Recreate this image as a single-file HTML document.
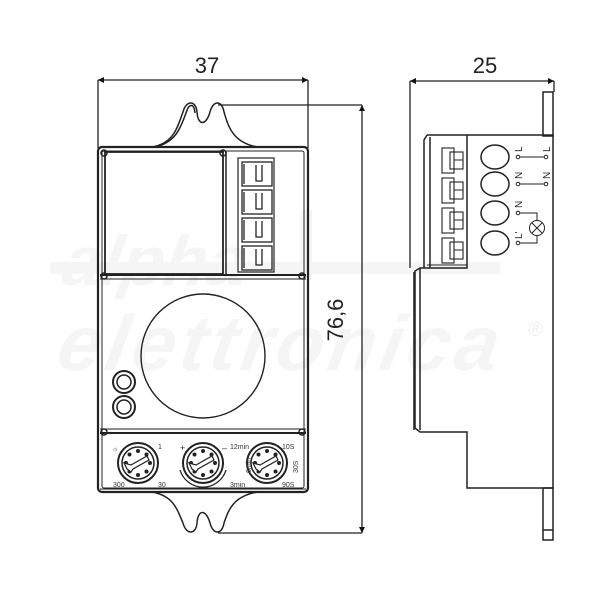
<!DOCTYPE html>
<html><head><meta charset="utf-8"><style>
html,body{margin:0;padding:0;background:#fff;width:600px;height:600px;overflow:hidden}
svg{display:block}
text{font-family:"Liberation Sans",sans-serif}
</style></head><body>
<svg width="600" height="600" viewBox="0 0 600 600" xmlns="http://www.w3.org/2000/svg">
<defs>
<marker id="ar" viewBox="0 0 10 10" refX="10" refY="5" markerWidth="10" markerHeight="6" orient="auto-start-reverse" markerUnits="userSpaceOnUse"><path d="M0,0L10,5L0,10z" fill="#111"/></marker>
<g id="knob">
<circle r="20" fill="none" stroke="#222" stroke-width="2"/>
<circle r="16" fill="none" stroke="#222" stroke-width="1.5"/>
<g fill="#222">
<circle cx="12" cy="0" r="2"/><circle cx="8.5" cy="8.5" r="2"/><circle cx="0" cy="12" r="2"/><circle cx="-8.5" cy="8.5" r="2"/>
<circle cx="-12" cy="0" r="2"/><circle cx="-8.5" cy="-8.5" r="2"/><circle cx="0" cy="-12" r="2"/><circle cx="8.5" cy="-8.5" r="2"/>
</g>
<path d="M-11,6 L-14,0 L-7,2 L9,-7 L11,-3 L-5,6 L-7,9z" fill="#fff" stroke="#222" stroke-width="1.2"/>
</g>
</defs>

<!-- watermark -->
<g fill="#f5f5f5" font-style="italic" font-weight="bold">
<text x="110" y="285" font-size="70" transform="skewX(-10)">alpha</text>
<text x="120" y="370" font-size="78" transform="skewX(-10)" textLength="440">elettronica</text>
<rect x="50" y="262" width="450" height="12"/>
<rect x="300" y="210" width="12" height="70"/>
</g>
<text x="528" y="336" font-size="20" fill="#eeeeee">®</text>

<g fill="none" stroke="#222" stroke-width="1.3">
<line x1="98" y1="80" x2="308" y2="80" marker-start="url(#ar)" marker-end="url(#ar)"/>
<line x1="98" y1="80" x2="98" y2="148"/>
<line x1="308" y1="80" x2="308" y2="148"/>
<line x1="410" y1="81" x2="554" y2="81" marker-start="url(#ar)" marker-end="url(#ar)"/>
<line x1="410" y1="81" x2="410" y2="268"/>
<line x1="554" y1="81" x2="554" y2="92"/>
<line x1="362" y1="105" x2="362" y2="533" marker-start="url(#ar)" marker-end="url(#ar)"/>
<line x1="218" y1="105" x2="362" y2="105"/>
<line x1="218" y1="533" x2="362" y2="533"/>
</g>

<text x="207" y="73" font-size="22" text-anchor="middle" fill="#222">37</text>
<text x="485" y="73" font-size="22" text-anchor="middle" fill="#222">25</text>
<text x="0" y="0" font-size="22" text-anchor="middle" fill="#222" transform="translate(343,320) rotate(-90)">76,6</text>

<g fill="none" stroke="#222" stroke-width="1.5">
<path d="M152,147 C175,143 178,125 183,112 C186,100 196,100 197,112 C198,126 206,126 210,112 C213,100 222,100 224,112 C228,125 232,143 258,147"/>
<path d="M155,147 C177,142 181,126 186,113 C189,103 194,103 195,113"/>
<path d="M152,492 C175,496 178,512 183,523 C186,535 196,535 197,523 C198,509 206,509 210,523 C213,535 222,535 224,523 C228,512 232,496 258,492"/>
<rect x="98" y="147" width="210" height="345" rx="4" stroke-width="2.2"/>
<rect x="102" y="151" width="202" height="337" rx="2" stroke-width="1"/>
<rect x="105" y="152" width="118" height="122" stroke-width="1.8"/>
<line x1="226" y1="152" x2="226" y2="274"/>
<rect x="238" y="158" width="36" height="114" stroke-width="1.2"/>
<g stroke-width="1.3">
<rect x="242" y="162" width="30" height="24"/><rect x="242" y="190" width="30" height="24"/>
<rect x="242" y="218" width="30" height="24"/><rect x="242" y="246" width="30" height="24"/>
<path d="M244,164v20M256,165v16h6v-16M244,192v20M256,193v16h6v-16M244,220v20M256,221v16h6v-16M244,248v20M256,249v16h6v-16"/>
</g>
<line x1="100" y1="275" x2="306" y2="275" stroke-width="2"/>
<line x1="100" y1="279" x2="306" y2="279" stroke-width="1"/>
<line x1="100" y1="433" x2="306" y2="433" stroke-width="2"/>
<line x1="100" y1="429" x2="306" y2="429" stroke-width="1"/>
<line x1="100" y1="489" x2="306" y2="489" stroke-width="1"/>
<circle cx="104" cy="153" r="3"/><circle cx="223" cy="153" r="3"/>
<circle cx="104" cy="276" r="3"/><circle cx="302" cy="276" r="3"/>
<circle cx="104" cy="432" r="3"/><circle cx="302" cy="432" r="3"/>
<circle cx="203" cy="356" r="62" stroke-width="1.4"/>
<circle cx="124" cy="382" r="11" stroke-width="2"/><circle cx="124" cy="382" r="7"/>
<circle cx="124" cy="407" r="11" stroke-width="2"/><circle cx="124" cy="407" r="7"/>
</g>
<use href="#knob" x="138" y="463"/>
<use href="#knob" x="203" y="463"/>
<use href="#knob" x="267" y="463"/>
<path d="M180,470 A24,24 0 0 0 226,470" fill="none" stroke="#222" stroke-width="1.3"/>
<g font-size="7" fill="#333">
<text x="112" y="451">☼</text><text x="158" y="449">1</text>
<text x="113" y="487">300</text><text x="158" y="487">30</text>
<text x="180" y="451" font-size="9">+</text><text x="222" y="451" font-size="9">–</text>
<text x="230" y="449">12min</text><text x="282" y="449">10S</text>
<text x="230" y="487">3min</text><text x="282" y="487">90S</text>
<text x="0" y="0" transform="translate(251,473) rotate(-90)">6min</text>
<text x="0" y="0" transform="translate(298,473) rotate(-90)">30S</text>
</g>

<g fill="none" stroke="#222" stroke-width="1.5">
<rect x="543" y="92" width="10" height="44"/>
<rect x="543" y="488" width="10" height="52" />
<line x1="543" y1="530" x2="553" y2="530"/>
<path d="M427,135 H553 V488 H467 V432 H420 L415,428 V271 L420,268 H467 V135"/>
<path d="M427,135 L424,140 V268 M430,137 V268 M420,268 V430 M414,272 V430"/>
<line x1="427" y1="265" x2="467" y2="265" stroke-width="1"/>
<g stroke-width="1.1">
<rect x="442" y="148" width="12" height="25"/><rect x="450" y="152" width="13" height="17"/>
<rect x="442" y="178" width="12" height="25"/><rect x="450" y="182" width="13" height="17"/>
<rect x="442" y="208" width="12" height="25"/><rect x="450" y="212" width="13" height="17"/>
<rect x="442" y="238" width="12" height="25"/><rect x="450" y="242" width="13" height="17"/>
<path d="M454,160h9M454,190h9M454,220h9M454,250h9"/>
</g>
<ellipse cx="495" cy="157" rx="14" ry="12"/>
<ellipse cx="495" cy="184" rx="14" ry="12"/>
<ellipse cx="495" cy="213" rx="14" ry="12"/>
<ellipse cx="495" cy="243" rx="14" ry="12"/>
<g stroke-width="1">
<circle cx="518" cy="157" r="1.8"/><circle cx="546" cy="157" r="1.8"/><line x1="520" y1="157" x2="544" y2="157"/>
<circle cx="518" cy="184" r="1.8"/><circle cx="546" cy="184" r="1.8"/><line x1="520" y1="184" x2="544" y2="184"/>
<circle cx="518" cy="213" r="1.8"/><path d="M520,213 H537 V220"/>
<circle cx="518" cy="243" r="1.8"/><path d="M520,243 H537 V236"/>
<circle cx="537" cy="228" r="7.5"/><path d="M532,223 L542,233 M542,223 L532,233"/>
</g>
</g>
<g font-size="10" fill="#222">
<text x="0" y="0" transform="translate(522,152) rotate(-90)">L</text>
<text x="0" y="0" transform="translate(550,152) rotate(-90)">L</text>
<text x="0" y="0" transform="translate(522,179) rotate(-90)">N</text>
<text x="0" y="0" transform="translate(550,179) rotate(-90)">N</text>
<text x="0" y="0" transform="translate(522,208) rotate(-90)">N</text>
<text x="0" y="0" transform="translate(522,239) rotate(-90)">L'</text>
</g>
</svg>
</body></html>
